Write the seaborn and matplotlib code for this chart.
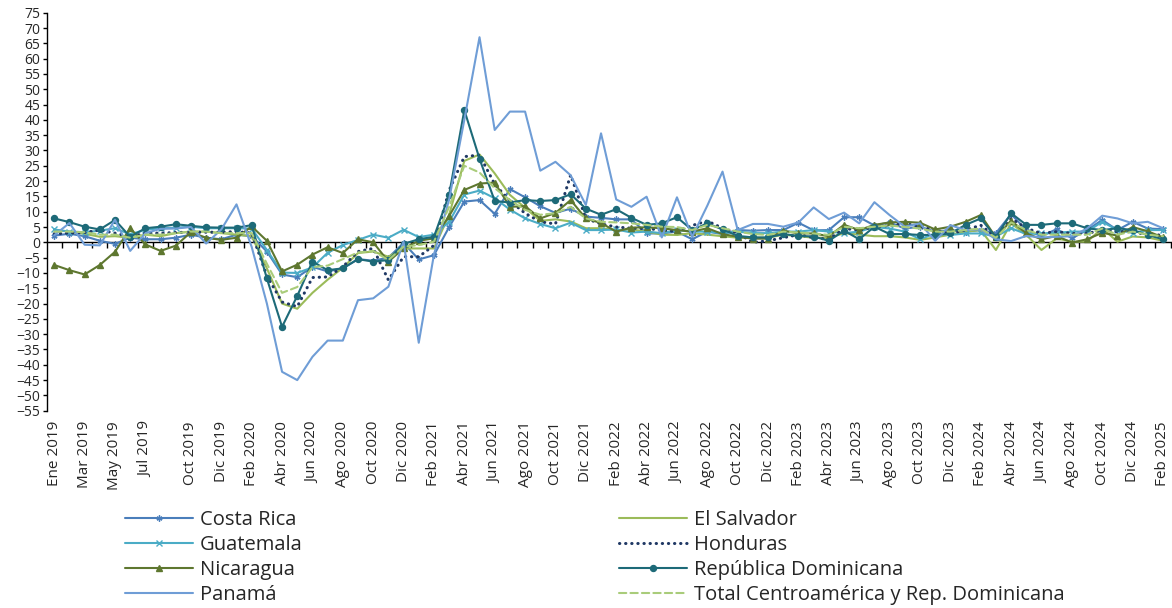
import numpy as np
import pandas as pd
import matplotlib
matplotlib.use("Agg")
import matplotlib.pyplot as plt
from matplotlib.ticker import MultipleLocator, FixedLocator
import seaborn as sns

# variacion interanual (%) por pais, Ene 2019 - Feb 2025 (74 meses)
costa_rica = [2.2, 2.8, 2.0, 0.5, -0.5, 1.5, 1.0, 1.0, 1.5, 2.5, 1.5, 1.0, 2.5, 2.0,
              -3.0, -10.5, -11.4, -8.0, -9.5, -8.5, -5.5, -6.0, -5.0, -0.2, -5.6, -4.2,
              5.0, 13.3, 13.8, 9.3, 17.4, 14.7, 11.8, 9.6, 11.0, 8.4, 8.0, 7.5, 7.5,
              2.9, 2.9, 3.5, 1.0, 3.5, 2.7, 4.0, 3.8, 4.0, 4.0, 6.4, 3.9, 4.0, 8.2, 8.2, 5.5, 6.5,
              4.5, 5.1, 3.5, 4.0, 3.5, 4.0, 3.0, 9.2, 4.0, 2.0, 4.3, 1.3, 4.0, 7.3, 4.0, 6.7, 4.5, 4.3]
el_salvador = [4.0, 3.5, 2.8, 1.8, 2.0, 1.5, 2.5, 2.0, 3.0, 3.5, 3.5, 3.0, 2.5, 2.0,
               -8.5, -20.0, -21.7, -16.5, -12.2, -8.3, -3.5, -3.0, -4.7, -2.0, -2.0, -2.0,
               9.0, 26.6, 28.7, 22.5, 15.5, 11.3, 7.0, 7.5, 6.8, 4.6, 4.6, 4.0, 4.2,
               3.5, 2.5, 2.4, 3.0, 2.5, 2.0, 1.5, 1.5, 1.5, 2.5, 2.0, 1.5, 1.5, 3.0, 2.5, 2.0, 2.0,
               1.6, 0.8, 1.6, 2.5, 3.5, 4.0, -2.5, 6.2, 2.4, -2.5, 1.3, 0.2, 0.2, 4.6, 0.2, 1.9, 1.6, 0.5]
guatemala = [4.2, 3.5, 3.3, 3.8, 4.6, 2.6, 4.1, 4.6, 4.8, 5.1, 4.6, 4.6, 4.6, 4.5,
             -2.5, -9.9, -10.0, -8.2, -3.4, -0.9, 0.8, 2.5, 1.5, 4.1, 1.7, 2.5,
             6.7, 15.6, 16.9, 14.4, 10.7, 7.8, 6.0, 4.6, 6.4, 4.0, 4.0, 4.2, 3.2,
             3.5, 3.0, 4.0, 3.5, 3.5, 3.0, 3.5, 3.0, 3.0, 3.5, 3.5, 4.0, 3.5, 3.0, 3.5, 5.0, 4.5,
             3.5, 1.0, 2.9, 2.4, 2.9, 2.9, 1.9, 4.6, 2.7, 2.9, 3.1, 3.5, 3.5, 6.7, 4.0, 3.1, 4.0, 4.0]
honduras = [2.8, 3.0, 3.2, 4.0, 3.0, 1.8, 3.0, 3.0, 3.2, 3.3, 3.3, 3.3, 3.5, 3.0,
            -11.0, -19.5, -21.0, -11.5, -11.3, -8.0, -3.0, -2.0, -12.3, -4.7, -4.7, -1.0,
            17.0, 28.0, 28.5, 19.0, 13.5, 9.5, 6.7, 6.0, 22.0, 7.8, 6.0, 5.0, 4.6,
            4.5, 4.0, 3.5, 5.5, 7.0, 4.6, 3.0, 0.0, 0.5, 1.5, 2.5, 1.5, 1.0, 4.5, 4.0, 5.0, 5.5,
            6.2, 5.1, 4.0, 2.9, 4.0, 5.6, 1.6, 7.8, 4.6, 2.9, 3.5, 2.9, 2.9, 4.0, 3.5, 3.5, 2.4, 2.4]
nicaragua = [-7.4, -9.1, -10.5, -7.4, -3.1, 4.6, -0.7, -2.8, -1.1, 3.3, 1.5, 0.8, 1.5, 5.2,
             0.5, -9.5, -7.3, -4.0, -1.6, -3.5, 1.0, 0.0, -6.3, -2.0, 0.5, 1.3,
             8.6, 17.1, 19.2, 19.5, 11.6, 11.8, 7.8, 9.6, 13.8, 7.8, 6.3, 3.5, 4.8,
             4.9, 4.6, 4.0, 3.5, 4.6, 2.7, 1.8, 1.2, 1.2, 3.8, 2.9, 2.9, 2.0, 5.7, 4.0, 5.7, 6.5,
             6.7, 6.4, 4.2, 5.1, 6.7, 8.9, 1.6, 7.1, 2.9, 1.0, 2.1, -0.1, 1.0, 3.1, 2.2, 5.0, 3.6, 1.6]
rep_dominicana = [7.8, 6.6, 5.1, 4.2, 7.3, 1.8, 4.6, 5.1, 5.9, 5.4, 4.9, 4.8, 4.8, 5.6,
                  -11.8, -27.6, -17.5, -6.3, -9.1, -8.5, -5.5, -6.3, -5.8, -0.5, 1.0, 1.8,
                  15.6, 43.2, 27.3, 13.5, 13.0, 13.8, 13.5, 13.8, 15.7, 11.0, 9.0, 10.8, 8.0,
                  5.7, 6.2, 8.2, 4.0, 6.2, 4.2, 2.1, 1.6, 1.6, 2.7, 2.1, 1.9, 0.5, 3.8, 1.0, 5.1, 2.7,
                  2.7, 2.4, 2.4, 2.9, 5.7, 7.8, 1.6, 9.5, 5.7, 5.7, 6.2, 6.2, 4.6, 4.0, 4.6, 4.0, 2.4, 1.0]
panama = [2.3, 6.3, -0.8, -1.0, 7.4, -2.8, 3.0, 4.4, 4.5, 5.0, -0.4, 4.2, 12.4, -1.5,
          -20.0, -42.3, -45.0, -37.4, -32.1, -32.1, -18.9, -18.3, -14.5, 0.2, -32.8, -4.0,
          14.0, 40.0, 67.0, 36.7, 42.7, 42.7, 23.4, 26.3, 21.9, 12.2, 35.6, 14.0, 11.6,
          14.9, 1.6, 14.7, 1.8, 12.0, 23.1, 4.0, 6.0, 6.0, 5.1, 6.5, 11.4, 7.6, 9.7, 6.2, 13.1, 8.9,
          5.1, 6.2, 0.5, 5.6, 4.0, 4.2, 1.0, 0.4, 2.1, 1.6, 1.8, 2.0, 4.5, 8.7, 7.8, 6.2, 6.7, 4.6]
total = [3.5, 3.5, 3.3, 2.5, 2.5, 1.5, 2.5, 2.5, 3.0, 3.5, 3.5, 3.0, 3.0, 3.0,
         -7.0, -16.5, -14.6, -8.1, -7.6, -5.5, -3.3, -2.8, -5.8, -1.4, -0.9, 0.2,
         11.6, 25.0, 22.8, 17.7, 13.8, 10.6, 9.0, 9.5, 11.6, 7.8, 6.7, 6.5, 6.2,
         5.7, 5.1, 5.0, 4.0, 5.7, 4.6, 3.5, 2.7, 2.4, 3.5, 3.2, 2.9, 2.4, 5.1, 4.6, 5.1, 5.5,
         5.0, 4.5, 3.5, 3.5, 4.0, 4.5, 1.5, 6.5, 4.0, 2.5, 2.5, 2.5, 2.5, 4.5, 2.5, 3.5, 2.5, 2.0]

etiquetas = ["Ene 2019", "Mar 2019", "May 2019", "Jul 2019", "Oct 2019", "Dic 2019",
             "Feb 2020", "Abr 2020", "Jun 2020", "Ago 2020", "Oct 2020", "Dic 2020",
             "Feb 2021", "Abr 2021", "Jun 2021", "Ago 2021", "Oct 2021", "Dic 2021",
             "Feb 2022", "Abr 2022", "Jun 2022", "Ago 2022", "Oct 2022", "Dic 2022",
             "Feb 2023", "Abr 2023", "Jun 2023", "Ago 2023", "Oct 2023", "Dic 2023",
             "Feb 2024", "Abr 2024", "Jun 2024", "Ago 2024", "Oct 2024", "Dic 2024",
             "Feb 2025"]
pos_etiquetas = [0, 2, 4, 6] + list(range(9, 74, 2))

series = [
    ("Costa Rica", costa_rica, "#4a7ebb", "-", (6, 2, 0)),
    ("El Salvador", el_salvador, "#9bbb59", "-", None),
    ("Guatemala", guatemala, "#4bacc6", "-", "x"),
    ("Honduras", honduras, "#1f3864", (0, (0.1, 1.9)), None),
    ("Nicaragua", nicaragua, "#5e772f", "-", "^"),
    ("República Dominicana", rep_dominicana, "#1d6a78", "-", "o"),
    ("Panamá", panama, "#6f9dd6", "-", None),
    ("Total Centroamérica y Rep. Dominicana", total, "#a9cc7a", (0, (3.5, 2)), None),
]

sns.set_style("white")
plt.rcParams["font.family"] = ["Open Sans", "DejaVu Sans"]

fig = plt.figure(figsize=(11.72, 6.08), dpi=100)
ax = fig.add_axes([0.0398, 0.3245, 0.959, 0.6546])

meses = np.arange(len(costa_rica))
for nombre, valores, color, estilo, marcador in series:
    lw = 2.2 if nombre == "Honduras" else 1.5
    sns.lineplot(x=meses, y=valores, ax=ax, color=color, linestyle=estilo,
                 linewidth=lw, marker=marcador, markersize=4.3 if marcador else 0,
                 markeredgewidth=1.0, markeredgecolor=color, label=nombre,
                 sort=False, zorder=3, dash_capstyle="round")

ax.set_xlim(-0.5, 73.5)
ax.set_ylim(-55, 75)
ax.yaxis.set_major_locator(MultipleLocator(5))

for s in ["top", "right"]:
    ax.spines[s].set_visible(False)
ax.spines["left"].set_color("black")
ax.spines["left"].set_linewidth(1.0)
ax.spines["bottom"].set_position(("data", 0))
ax.spines["bottom"].set_color("black")
ax.spines["bottom"].set_linewidth(1.0)

ax.set_xticks([])
ax.xaxis.set_minor_locator(FixedLocator(np.arange(0.5, 74, 1)))
ax.tick_params(axis="x", which="minor", length=4.2, width=1, direction="out",
               color="black", bottom=True)
ax.tick_params(axis="y", length=3, width=1, direction="out", color="black",
               labelsize=10, labelcolor="#262626", pad=1.5, left=True)
ax.set_xlabel("")
ax.set_ylabel("")

sec = ax.secondary_xaxis("bottom")
sec.set_xticks(pos_etiquetas, labels=etiquetas, rotation=90)
sec.tick_params(length=0, pad=7.5, labelsize=11, labelcolor="#262626")
sec.spines["bottom"].set_visible(False)

handles, labels = ax.get_legend_handles_labels()
ax.get_legend().remove()
orden = [0, 2, 4, 6, 1, 3, 5, 7]
fig.legend([handles[i] for i in orden], [labels[i] for i in orden],
           loc="upper left", bbox_to_anchor=(0.1067, 0.1605), ncol=2,
           frameon=False, fontsize=14.5, handlelength=3.38, handletextpad=0.35,
           columnspacing=15.7, labelspacing=0.24, borderpad=0, borderaxespad=0,
           labelcolor="#262626")

fig.savefig("out.png", dpi=100)
